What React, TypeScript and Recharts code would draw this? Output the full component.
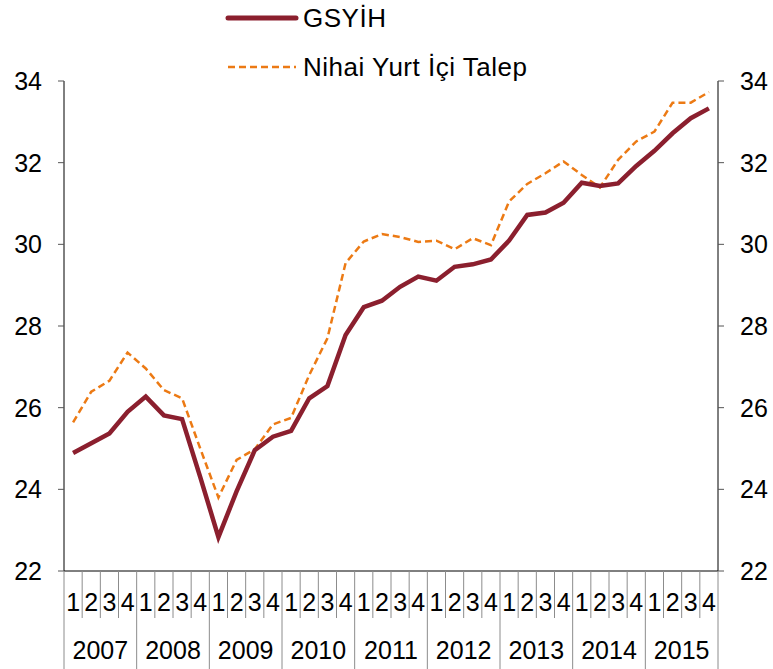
import React from "react";
import { Line, LineChart, XAxis, YAxis } from "recharts";

const years = ["2007", "2008", "2009", "2010", "2011", "2012", "2013", "2014", "2015"];
const quarters = ["1", "2", "3", "4"];
const yTicks = [22, 24, 26, 28, 30, 32, 34];

// GSYİH
const gsyih = [
  24.89, 25.13, 25.37, 25.9, 26.27, 25.81, 25.72, 24.3, 22.83, 23.95, 24.96, 25.29,
  25.43, 26.23, 26.53, 27.78, 28.46, 28.62, 28.96, 29.21, 29.11, 29.45, 29.51, 29.63,
  30.09, 30.72, 30.78, 31.02, 31.51, 31.43, 31.49, 31.92, 32.29, 32.72, 33.09, 33.33,
];

// Nihai Yurt İçi Talep
const talep = [
  25.64, 26.39, 26.66, 27.35, 26.96, 26.43, 26.23, 25.0, 23.8, 24.72, 24.98, 25.59,
  25.75, 26.8, 27.7, 29.54, 30.07, 30.25, 30.18, 30.06, 30.09, 29.88, 30.15, 29.98,
  31.05, 31.48, 31.74, 32.03, 31.7, 31.39, 32.07, 32.52, 32.76, 33.47, 33.47, 33.73,
];

const W = 773;
const H = 669;
const LEFT_W = 64;
const RIGHT_W = 55;
const TOP = 81;
const X_H = 98;
const AXIS_Y = H - X_H;
const BAND = (W - LEFT_W - RIGHT_W) / (years.length * quarters.length);

const FONT = '"Liberation Sans", Arial, sans-serif';
const RED = "#8b1f2e";
const ORANGE = "#ec7a14";

const rows = years.flatMap((year, yi) =>
  quarters.map((q, qi) => {
    const i = yi * 4 + qi;
    return { key: `${year}-${q}`, year, q, gsyih: gsyih[i], talep: talep[i] };
  })
);

function QuarterTick(props: any) {
  const { x, index } = props;
  const row = rows[index];
  if (!row) return null;
  const left = x - BAND / 2;
  const right = x + BAND / 2;
  const isLast = index === rows.length - 1;
  return (
    <g>
      <line x1={left} x2={left} y1={AXIS_Y} y2={row.q === "1" ? H : AXIS_Y + 47} stroke="#8c8c8c" strokeWidth={1} />
      {isLast && <line x1={right} x2={right} y1={AXIS_Y} y2={H} stroke="#8c8c8c" strokeWidth={1} />}
      <text x={x} y={AXIS_Y + 40} textAnchor="middle" fontSize={25} fontFamily={FONT} fill="#000">
        {row.q}
      </text>
      {row.q === "2" && (
        <text x={right} y={AXIS_Y + 88} textAnchor="middle" fontSize={25} fontFamily={FONT} fill="#000">
          {row.year}
        </text>
      )}
    </g>
  );
}

function LegendBox() {
  const item = (label: string, color: string, width: number, dash: string | undefined, top: number) => (
    <div style={{ position: "absolute", left: 225, top, display: "flex", alignItems: "center", height: 30 }}>
      <svg width={74} height={10} style={{ marginRight: 4 }}>
        <line x1={3} x2={71} y1={5} y2={5} stroke={color} strokeWidth={width} strokeDasharray={dash} strokeLinecap={dash ? "butt" : "round"} />
      </svg>
      <span style={{ fontFamily: FONT, fontSize: 26, letterSpacing: 0.5, color: "#000", whiteSpace: "nowrap" }}>{label}</span>
    </div>
  );
  return (
    <>
      {item("GSYİH", RED, 5, undefined, 3)}
      {item("Nihai Yurt İçi Talep", ORANGE, 2.5, "7 4", 52)}
    </>
  );
}

export default function App() {
  return (
    <div style={{ position: "absolute", left: 0, top: 0, width: W, height: H, background: "#fff" }}>
      <LegendBox />
      <LineChart width={W} height={H} data={rows} margin={{ top: TOP, right: 0, bottom: 0, left: 0 }}>
        <XAxis
          dataKey="key"
          height={X_H}
          interval={0}
          padding={{ left: BAND / 2, right: BAND / 2 }}
          tickLine={false}
          tickSize={0}
          axisLine={{ stroke: "#000", strokeWidth: 1 }}
          tick={<QuarterTick />}
        />
        <YAxis
          yAxisId="left"
          orientation="left"
          width={LEFT_W}
          domain={[22, 34]}
          ticks={yTicks}
          interval={0}
          tickSize={6}
          tickMargin={16}
          axisLine={{ stroke: "#000", strokeWidth: 1 }}
          tickLine={{ stroke: "#555" }}
          tick={{ fontSize: 25, fill: "#000", fontFamily: FONT }}
        />
        <YAxis
          yAxisId="right"
          orientation="right"
          width={RIGHT_W}
          domain={[22, 34]}
          ticks={yTicks}
          interval={0}
          tickSize={6}
          tickMargin={16}
          axisLine={{ stroke: "#000", strokeWidth: 1 }}
          tickLine={{ stroke: "#555" }}
          tick={{ fontSize: 25, fill: "#000", fontFamily: FONT }}
        />
        <Line
          yAxisId="right"
          dataKey="talep"
          stroke={ORANGE}
          strokeWidth={2.5}
          strokeDasharray="7 4"
          dot={false}
          activeDot={false}
          isAnimationActive={false}
          type="linear"
        />
        <Line
          yAxisId="left"
          dataKey="gsyih"
          stroke={RED}
          strokeWidth={4.5}
          dot={false}
          activeDot={false}
          isAnimationActive={false}
          type="linear"
        />
      </LineChart>
    </div>
  );
}
